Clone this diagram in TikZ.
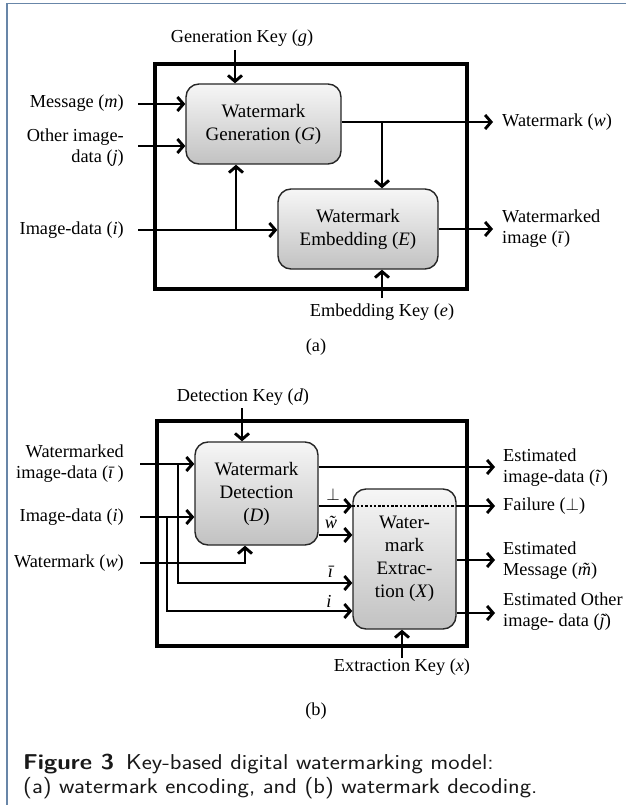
\documentclass[tikz,border=0pt]{standalone}
\usepackage{fontspec}
\setmainfont{Liberation Serif}
\usetikzlibrary{arrows.meta}
\definecolor{framecol}{RGB}{104,134,168}
\definecolor{captcol}{RGB}{25,25,25}
% small tilde set over a letter
\newcommand\tildeover[1]{{\ooalign{#1\cr\hidewidth\kern1.5pt\char"02DC\hidewidth\cr}}}
\begin{document}
\begin{tikzpicture}[x=1pt,y=-1pt,
  lbl/.style={font=\fontsize{18.3}{21}\selectfont, inner sep=0pt},
  blk/.style={draw=black!85, line width=1.4pt, rounded corners=13pt,
    top color=gray!7, bottom color=gray!48, align=center, inner sep=0pt,
    font=\fontsize{19}{23}\selectfont},
  outer/.style={draw=black, line width=3.5pt},
  wire/.style={line width=2.9pt},
  arr/.style={wire, -{Straight Barb[length=6pt,width=14pt]}},
  dotline/.style={line width=2.5pt, dash pattern=on 2.5pt off 1.8pt},
  captfont/.style={font=\fontsize{21.5}{24}\selectfont\sffamily, text=captcol, inner sep=0pt}]

% page area and frame
\fill[white] (0,0) rectangle (626,805);
\useasboundingbox (0,0) rectangle (626,805);
\draw[framecol, line width=1.8pt] (7.2,805) -- (7.2,3.6) -- (626,3.6);

% ---------------- (a) encoding ----------------
\draw[outer] (155,64) rectangle (467,289);
\node[blk, minimum width=155pt, minimum height=80pt] (G) at (263.5,124) {Watermark\\Generation (\textit{G})};
\node[blk, minimum width=160pt, minimum height=80pt] (E) at (358,229) {Watermark\\Embedding (\textit{E})};

\node[lbl] (gk) at (242,38) {Generation Key (\textit{g})};
\node[lbl, anchor=east] (msg) at (124,103) {Message (\textit{m})};
\node[lbl, anchor=east, align=right] (oth) at (124,148) {Other image-\\data (\textit{j})};
\node[lbl, anchor=east] (img) at (124,230) {Image-data (\textit{i})};
\node[lbl, anchor=west] (wmo) at (502,122) {Watermark (\textit{w})};
\node[lbl, anchor=west, align=left] (wdo) at (502,229) {Watermarked\\image (\textit{ī})};
\node[lbl] (ek) at (382,312) {Embedding Key (\textit{e})};
\node[lbl] (capa) at (316,347) {(a)};

\coordinate (gkt) at (235,50);
\draw[arr] (gkt) -- (gkt |- G.north);
\coordinate (msgs) at (138,104);
\draw[arr] (msgs) -- (msgs -| G.west);
\coordinate (oths) at (138,146);
\draw[arr] (oths) -- (oths -| G.west);
\coordinate (imgs) at (138,230);
\draw[arr] (imgs) -- (imgs -| E.west);
\coordinate (br1) at (236,230);
\draw[arr] (br1) -- (br1 |- G.south);
\coordinate (wout) at (493,122);
\draw[arr] (wout -| G.east) -- (wout);
\coordinate (br2) at (382,122);
\draw[arr] (br2) -- (br2 |- E.north);
\coordinate (eout) at (493,229);
\draw[arr] (eout -| E.east) -- (eout);
\coordinate (eks) at (382,298);
\draw[arr] (eks) -- (eks |- E.south);

% ---------------- (b) decoding ----------------
\draw[outer] (157,421) rectangle (467,646);
\node[blk, minimum width=123pt, minimum height=103pt] (D) at (256.5,493.5) {Watermark\\Detection\\(\textit{D})};
\node[blk, minimum width=103pt, minimum height=140pt] (X) at (404.5,559) {Water-\\mark\\Extrac-\\tion (\textit{X})};

\node[lbl] (dk) at (243,397) {Detection Key (\textit{d})};
\node[lbl, anchor=east, align=right] (wmi) at (124,464) {Watermarked\\image-data (\textit{ī}\,)};
\node[lbl, anchor=east] (imgb) at (124,517) {Image-data (\textit{i})};
\node[lbl, anchor=east] (wmb) at (124,563) {Watermark (\textit{w})};
\node[lbl, anchor=west, align=left] (eid) at (503,468) {Estimated\\image-data (\textit{ĩ})};
\node[lbl, anchor=west] (fail) at (503,506) {Failure ($\perp$)};
\node[lbl, anchor=west, align=left] (emsg) at (503,561) {Estimated\\Message (\textit{\tildeover{m}})};
\node[lbl, anchor=west, align=left] (eoth) at (503,612) {Estimated Other\\image- data (\textit{\tildeover{ȷ}})};
\node[lbl] (xk) at (402,667) {Extraction Key (\textit{x})};
\node[lbl] (capb) at (316,711) {(b)};

\node[lbl] (tperp) at (333,494) {$\perp$};
\node[lbl] (tw) at (331,524) {\textit{\tildeover{w}}};
\node[lbl] (tib) at (331,572) {\textit{ī}};
\node[lbl] (ti) at (329,601) {\textit{i}};

\coordinate (dks) at (242,408);
\draw[arr] (dks) -- (dks |- D.north);
\coordinate (wis) at (140,464);
\draw[arr] (wis) -- (wis -| D.west);
\coordinate (iis) at (140,517);
\draw[arr] (iis) -- (iis -| D.west);
\coordinate (wws) at (140,563);
\coordinate (wwc) at (245,563);
\draw[arr] (wws) -- (wwc) -- (wwc |- D.south);
\coordinate (b1) at (178,464);
\coordinate (b1c) at (178,583);
\draw[arr] (b1) -- (b1c) -- (b1c -| X.west);
\coordinate (b2) at (167,517);
\coordinate (b2c) at (167,611);
\draw[arr] (b2) -- (b2c) -- (b2c -| X.west);
\coordinate (eido) at (495,467);
\draw[arr] (eido -| D.east) -- (eido);
\coordinate (fo) at (495,506);
\draw[arr] (fo -| D.east) -- (fo -| X.west);
\draw[dotline] (fo -| X.west) -- (fo -| X.east);
\draw[arr] (fo -| X.east) -- (fo);
\coordinate (wt) at (353,535);
\draw[arr] (wt -| D.east) -- (wt -| X.west);
\coordinate (mo) at (495,560);
\draw[arr] (mo -| X.east) -- (mo);
\coordinate (jo) at (495,613);
\draw[arr] (jo -| X.east) -- (jo);
\coordinate (xks) at (402,658);
\draw[arr] (xks) -- (xks |- X.south);

% ---------------- caption ----------------
\node[captfont, anchor=west, align=left] (cap) at (23,776)
  {\scalebox{1.12}[1]{{\bfseries Figure 3}\enspace Key-based digital watermarking model:}\\
   \scalebox{1.12}[1]{(a) watermark encoding, and (b) watermark decoding.}};
\end{tikzpicture}
\end{document}
